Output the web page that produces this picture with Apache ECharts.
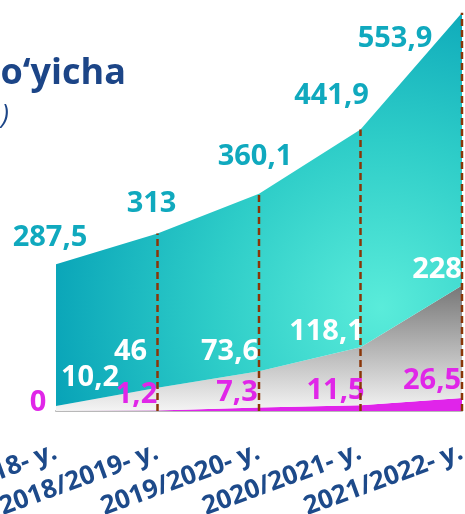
<!DOCTYPE html>
<html>
<head>
<meta charset="utf-8">
<script src="https://cdn.jsdelivr.net/npm/echarts@6/dist/echarts.min.js"></script>
<style>
html,body{margin:0;padding:0;background:#fff;}
#c{width:465px;height:514px;}
</style>
</head>
<body>
<div id="c"></div>
<script>
var categories = ['2017/2018- y.', '2018/2019- y.', '2019/2020- y.', '2020/2021- y.', '2021/2022- y.'];
var tealValues = [287.5, 313, 360.1, 441.9, 553.9];
var greyValues = [10.2, 46, 73.6, 118.1, 228];
var magentaValues = [0, 1.2, 7.3, 11.5, 26.5];

var tealOffsets = [[-6, -12], [-6, -15], [-4, -22], [-29, -19], [-67, 41]];
var greyOffsets = [[34, -13], [-27, -21], [-29, -4], [-34, 0], [-25, -1]];
var magentaOffsets = [[-18, 7], [-21, -1], [-22, 0], [-25, 0], [-30, -2]];

var FONT = 'Open Sans';
function fmt(v) { return String(v).replace('.', ','); }
function items(vals, offs) {
  return vals.map(function (v, i) { return { value: v, label: { offset: offs[i] } }; });
}
var totals = tealValues.map(function (v, i) { return v + greyValues[i] + magentaValues[i]; });
var dividerData = totals.map(function (t, i) { return [i, t]; }).slice(1);

function labelCfg(color) {
  return {
    show: true, position: 'top', distance: 0, color: color,
    fontFamily: FONT, fontWeight: 'bold', fontSize: 29,
    formatter: function (p) { return fmt(p.value); }
  };
}

var chart = echarts.init(document.getElementById('c'));
chart.setOption({
  animation: false,
  grid: { left: 56, right: 3, top: 7, bottom: 103, containLabel: false, outerBoundsMode: 'none' },
  xAxis: {
    type: 'category', data: categories, boundaryGap: false,
    axisLine: { show: true, lineStyle: { color: '#b8b8b8', width: 2 } },
    axisTick: { show: false },
    splitLine: { show: false },
    axisLabel: {
      interval: 0, rotate: 20, margin: 40, color: '#1d4a8a', hideOverlap: false,
      fontFamily: FONT, fontWeight: 'bold', fontSize: 26
    }
  },
  yAxis: { type: 'value', min: 0, max: 820, show: false, splitLine: { show: false } },
  graphic: [
    { type: 'text', x: 126, y: 74, style: { text: 'Yillar bo‘yicha', fill: '#1c4587', font: 'bold 36px "Open Sans"', textAlign: 'right', textVerticalAlign: 'middle' } },
    { type: 'text', x: 9, y: 116, style: { text: '(mlrd. so‘m)', fill: '#1c4587', font: 'italic 27px "Open Sans"', textAlign: 'right', textVerticalAlign: 'middle' } }
  ],
  series: [
    {
      name: 'magenta', type: 'line', stack: 's', data: items(magentaValues, magentaOffsets),
      symbol: 'circle', symbolSize: 1, itemStyle: { color: 'rgba(0,0,0,0)' },
      lineStyle: { width: 0 }, areaStyle: { color: '#e024ea', opacity: 1 },
      label: labelCfg('#e026e8'), emphasis: { disabled: true }, z: 3
    },
    {
      name: 'grey', type: 'line', stack: 's', data: items(greyValues, greyOffsets),
      symbol: 'circle', symbolSize: 1, itemStyle: { color: 'rgba(0,0,0,0)' },
      lineStyle: { width: 0 },
      areaStyle: { opacity: 1, color: new echarts.graphic.LinearGradient(0, 0, 0, 1, [
        { offset: 0, color: '#777777' }, { offset: 1, color: '#f4f4f4' }]) },
      label: labelCfg('#ffffff'), emphasis: { disabled: true }, z: 3
    },
    {
      name: 'teal', type: 'line', stack: 's', data: items(tealValues, tealOffsets),
      symbol: 'circle', symbolSize: 1, itemStyle: { color: 'rgba(0,0,0,0)' },
      lineStyle: { width: 0 },
      areaStyle: { opacity: 1, color: new echarts.graphic.RadialGradient(0.8, 0.75, 0.85, [
        { offset: 0, color: '#5aecda' }, { offset: 0.5, color: '#2ecdc8' }, { offset: 1, color: '#09a4b8' }]) },
      label: labelCfg('#10a9be'), emphasis: { disabled: true }, z: 3
    },
    {
      name: 'dividers', type: 'custom', data: dividerData, z: 4, silent: true,
      renderItem: function (params, api) {
        var p0 = api.coord([api.value(0), 0]);
        var p1 = api.coord([api.value(0), api.value(1)]);
        return {
          type: 'line',
          shape: { x1: p0[0], y1: p0[1], x2: p1[0], y2: p1[1] },
          style: { stroke: '#8a3608', lineWidth: 2.5, lineDash: [7, 4] }
        };
      }
    }
  ]
});
</script>
</body>
</html>
